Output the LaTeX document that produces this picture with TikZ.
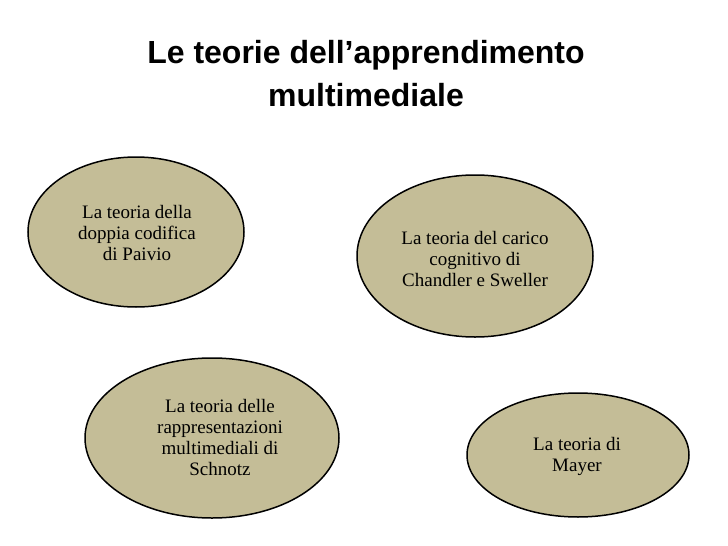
\documentclass[tikz,border=0pt]{standalone}
\usepackage{fontspec}
\setmainfont{Liberation Serif}
\newfontfamily\titlefont{Liberation Sans}
\usepackage{xcolor}
\usetikzlibrary{shapes.geometric}
\definecolor{tan}{HTML}{C4BD97}

\begin{document}
\begin{tikzpicture}[x=1pt, y=-1pt,
    teoria/.style={ellipse, draw=black, line width=1.5pt, fill=tan, inner sep=0pt},
    testo/.style={align=center, font=\fontsize{19}{21}\selectfont}]
                \useasboundingbox (0,0) rectangle (728,546);
                \fill[white] (0,0) rectangle (728,546);

                % Title
                \node[align=center, font=\titlefont\bfseries\fontsize{32}{43}\selectfont] (titolo) at (366,74)
                    {Le teorie dell’apprendimento\\multimediale};

                % Paivio
                \node[teoria, minimum width=216pt, minimum height=150pt] (paivio) at (136,232) {};
                \node[testo] (paivio-txt) at (137,233) {La teoria della\\doppia codifica\\di Paivio};

                % Chandler e Sweller
                \node[teoria, minimum width=236pt, minimum height=162pt] (sweller) at (475,256) {};
                \node[testo] (sweller-txt) at (475,259) {La teoria del carico\\cognitivo di\\Chandler e Sweller};

                % Schnotz
                \node[teoria, minimum width=254pt, minimum height=160pt] (schnotz) at (212,438) {};
                \node[testo] (schnotz-txt) at (220,437) {La teoria delle\\rappresentazioni\\multimediali di\\Schnotz};

                % Mayer
                \node[teoria, minimum width=222pt, minimum height=124pt] (mayer) at (578,455) {};
                \node[testo] (mayer-txt) at (577,456) {La teoria di\\Mayer};
            \end{tikzpicture}
\end{document}
